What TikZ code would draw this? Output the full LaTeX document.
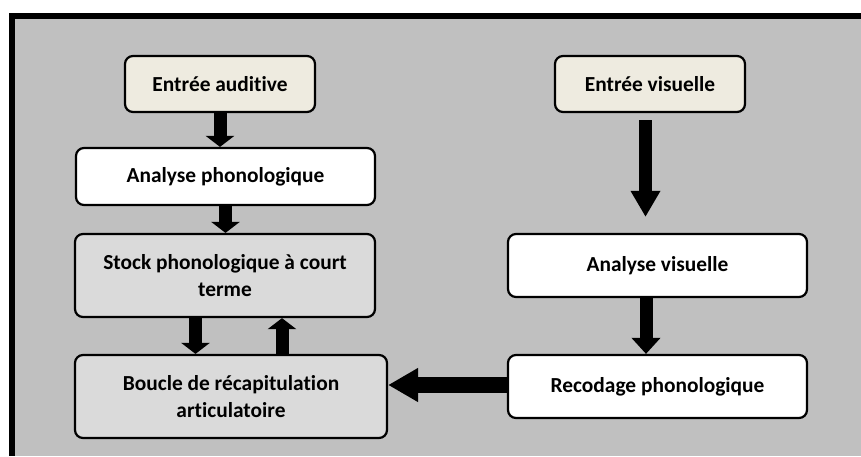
\documentclass[tikz,border=0pt]{standalone}
\usepackage{fontspec}
\setmainfont{Carlito}[Ligatures={NoCommon}]
\usetikzlibrary{arrows.meta}

\definecolor{backgray}{RGB}{192,192,192}
\definecolor{entreefill}{RGB}{238,235,224}
\definecolor{stockfill}{RGB}{218,218,218}

\tikzset{
  boite/.style={draw=black, line width=1.1pt, rounded corners=4pt, align=center,
    font=\fontsize{10.7}{13.2}\selectfont\bfseries, inner sep=0pt},
  fleche/.style={line width=6.5pt, -{Triangle[length=5.5pt,width=14pt]}},
}

\begin{document}
\begin{tikzpicture}[x=0.5pt,y=-0.5pt]

\useasboundingbox (0,0) rectangle (861,456);

% Cadre et fond gris
\fill[black] (9,13) rectangle (861,456);
\fill[backgray] (15,19) rectangle (861,456);

% Voie auditive (gauche)
\node[boite, fill=entreefill, minimum width=95pt, minimum height=28pt] (aud) at (220,84) {Entrée auditive};
\node[boite, fill=white, minimum width=149.5pt, minimum height=28.5pt] (aphon) at (225.5,176.5) {Analyse phonologique};
\node[boite, fill=stockfill, minimum width=150pt, minimum height=41.5pt] (stock) at (225,275.5) {Stock phonologique à court\\terme};
\node[boite, fill=stockfill, minimum width=156pt, minimum height=41.5pt] (boucle) at (231,396.5) {Boucle de récapitulation\\articulatoire};

% Voie visuelle (droite)
\node[boite, fill=entreefill, minimum width=95pt, minimum height=28pt] (vis) at (650,84) {Entrée visuelle};
\node[boite, fill=white, minimum width=149.5pt, minimum height=31.5pt] (avis) at (657.5,265.5) {Analyse visuelle};
\node[boite, fill=white, minimum width=149.5pt, minimum height=31.5pt] (recod) at (657.5,386.5) {Recodage phonologique};

% Fleches gauche
\draw[fleche] (aud.south) -- (aud.south |- aphon.north);
\draw[fleche] (aphon.south) -- (aphon.south |- stock.north);
\draw[fleche] ([xshift=-14.75pt]stock.south) -- ([xshift=-14.75pt]stock.south |- boucle.north); % vers la boucle
\draw[fleche] ([xshift=28.5pt]stock.south |- boucle.north) -- ([xshift=28.5pt]stock.south); % retour vers le stock

% Fleches droite
\draw[fleche, -{Triangle[length=13pt,width=14pt]}, shorten <=3.5pt, shorten >=8pt] ([xshift=-2.25pt]vis.south) -- ([xshift=-2.25pt]vis.south |- avis.north);
\draw[fleche, -{Triangle[length=8pt,width=14pt]}] ([xshift=-5.75pt]avis.south) -- ([xshift=-5.75pt]avis.south |- recod.north);

% Recodage vers la boucle
\draw[line width=8pt, -{Triangle[length=15pt,width=16pt]}] ([yshift=0.75pt]recod.west) -- ([yshift=0.75pt]boucle.east |- recod.west);

\end{tikzpicture}
\end{document}
